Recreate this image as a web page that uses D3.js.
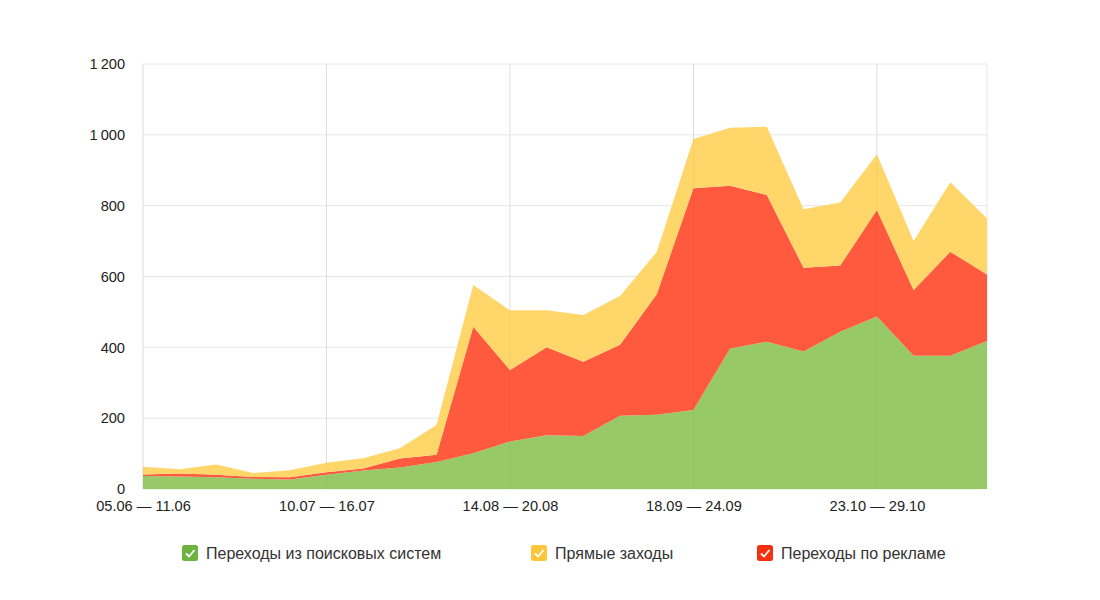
<!DOCTYPE html>
<html>
<head>
<meta charset="utf-8">
<script src="https://cdn.jsdelivr.net/npm/d3@7"></script>
<style>
    body { margin: 0; background: #fff; font-family: Arial, "Liberation Sans", sans-serif; }
    .tick text { fill: #222; font-size: 14.6px; font-family: Arial, "Liberation Sans", sans-serif; }
    .legend text { fill: #333; font-size: 16px; }
</style>
</head>
<body>
<div id="chart"></div>
<script>
'use strict';

// Weeks (start dates); label every 5th
const weeks = ['05.06', '12.06', '19.06', '26.06', '03.07', '10.07', '17.07', '24.07',
    '31.07', '07.08', '14.08', '21.08', '28.08', '04.09', '11.09', '18.09', '25.09',
    '02.10', '09.10', '16.10', '23.10', '30.10', '06.11', '13.11'];
const weekEnds = ['11.06', '18.06', '25.06', '02.07', '09.07', '16.07', '23.07', '30.07',
    '06.08', '13.08', '20.08', '27.08', '03.09', '10.09', '17.09', '24.09', '01.10',
    '08.10', '15.10', '22.10', '29.10', '05.11', '12.11', '19.11'];

// Series
const search = [37, 35, 33, 29, 27, 40, 52, 61, 76, 101, 134, 152, 150, 207, 210, 223,
    397, 416, 388, 444, 487, 376, 376, 418];
const ads = [4, 9, 7, 5, 6, 7, 6, 25, 21, 357, 202, 248, 209, 200, 340, 626, 459, 414,
    237, 187, 301, 186, 294, 188];
const direct = [22, 12, 29, 11, 20, 27, 29, 29, 84, 118, 169, 105, 132, 138, 119, 139,
    164, 193, 165, 178, 157, 138, 196, 158];

const yTicks = [0, 200, 400, 600, 800, 1000, 1200];

/*
Setup
*/
const w = 1100;
const h = 600;
const margin = {top: 64, right: 113, bottom: 111, left: 143};
const gW = w - margin.left - margin.right;
const gH = h - margin.top - margin.bottom;

const svg = d3.select('#chart')
    .append('svg')
    .attr('width', w)
    .attr('height', h);

const g = svg.append('g')
    .attr('transform', `translate(${margin.left},${margin.top})`);

// Table for stack
const table = weeks.map((d, i) => ({i: i, search: search[i], ads: ads[i], direct: direct[i]}));

// Scales
const x = d3.scaleLinear()
    .domain([0, weeks.length - 1])
    .range([0, gW]);
const y = d3.scaleLinear()
    .domain([0, 1200])
    .range([gH, 0]);

// Grid
g.append('g')
    .selectAll('line')
    .data(yTicks)
    .join('line')
    .attr('x1', 0).attr('x2', gW)
    .attr('y1', d => y(d)).attr('y2', d => y(d))
    .attr('stroke', '#e6e6e6');

const xTickIdx = d3.range(0, weeks.length, 5);
g.append('g')
    .selectAll('line')
    .data(xTickIdx.concat([weeks.length - 1]))
    .join('line')
    .attr('x1', d => x(d)).attr('x2', d => x(d))
    .attr('y1', 0).attr('y2', gH)
    .attr('stroke', '#e6e6e6');

// Stack and areas
const keys = ['search', 'ads', 'direct'];
const colors = {search: '#97c969', ads: '#ff5a3d', direct: '#fed66a'};
const stack = d3.stack().keys(keys)(table);

const area = d3.area()
    .x(d => x(d.data.i))
    .y0(d => y(d[0]))
    .y1(d => y(d[1]));

g.append('g')
    .selectAll('path')
    .data(stack)
    .join('path')
    .attr('fill', d => colors[d.key])
    .attr('d', area);

// Vertical grid lines show faintly above areas
g.append('g')
    .selectAll('line')
    .data(xTickIdx)
    .join('line')
    .attr('x1', d => x(d)).attr('x2', d => x(d))
    .attr('y1', 0).attr('y2', gH)
    .attr('stroke', 'rgba(0,0,0,0.04)');

// Axes
const yAxis = d3.axisLeft(y)
    .tickValues(yTicks)
    .tickSize(0)
    .tickPadding(18)
    .tickFormat(d => d3.format(',')(d).replace(',', '\u2009'));
g.append('g')
    .call(yAxis)
    .call(s => s.select('.domain').remove());

const xAxis = d3.axisBottom(x)
    .tickValues(xTickIdx)
    .tickSize(0)
    .tickPadding(12)
    .tickFormat(i => `${weeks[i]} \u2014 ${weekEnds[i]}`);
g.append('g')
    .attr('transform', `translate(0,${gH})`)
    .call(xAxis)
    .call(s => s.select('.domain').remove());

// Legend
const legendItems = [
    {key: 'search', label: 'Переходы из поисковых систем', color: '#6db43e', x: 182},
    {key: 'direct', label: 'Прямые заходы', color: '#fcc73a', x: 531},
    {key: 'ads', label: 'Переходы по рекламе', color: '#f5300f', x: 757}
];
const legend = svg.append('g')
    .attr('class', 'legend')
    .selectAll('g')
    .data(legendItems)
    .join('g')
    .attr('transform', d => `translate(${d.x},545)`);

legend.append('rect')
    .attr('width', 16).attr('height', 16)
    .attr('rx', 2.5)
    .attr('fill', d => d.color);
legend.append('path')
    .attr('d', 'M4 8.5 L7 11.5 L12.5 5')
    .attr('fill', 'none')
    .attr('stroke', '#fff')
    .attr('stroke-width', 1.8);
legend.append('text')
    .attr('x', 24)
    .attr('y', 14)
    .text(d => d.label);
</script>
</body>
</html>
